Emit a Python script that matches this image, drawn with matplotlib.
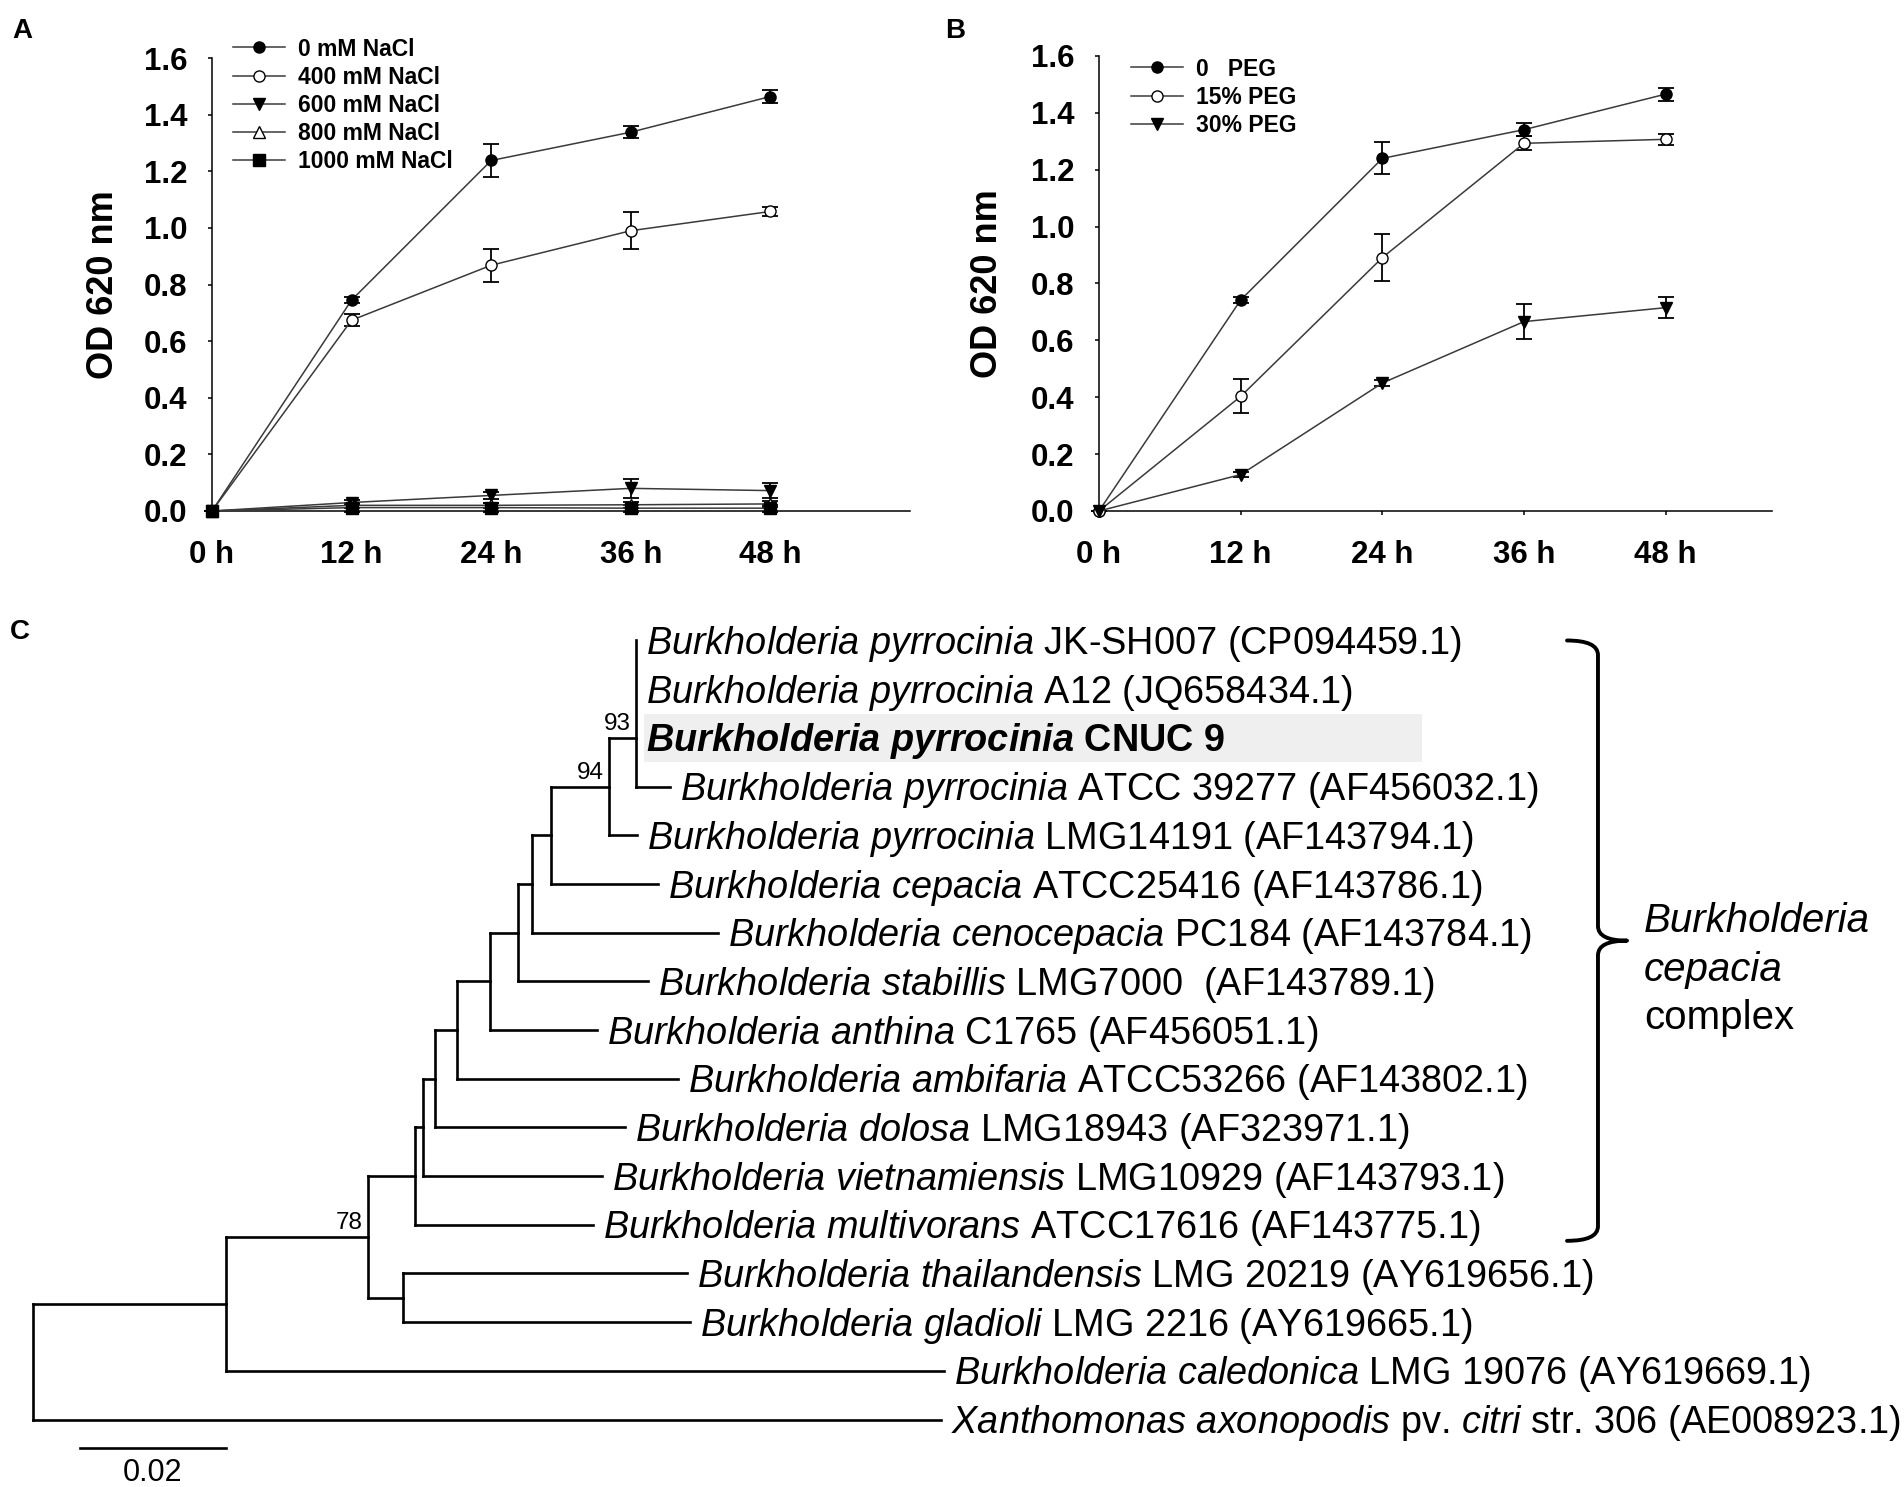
import matplotlib
matplotlib.use('Agg')
import matplotlib.pyplot as plt
from matplotlib.path import Path
from matplotlib.patches import PathPatch, Rectangle

plt.rcParams['font.family'] = ['Liberation Sans', 'DejaVu Sans']
plt.rcParams['mathtext.fontset'] = 'custom'
plt.rcParams['mathtext.rm'] = 'Liberation Sans'
plt.rcParams['mathtext.it'] = 'Liberation Sans:italic'
plt.rcParams['mathtext.bf'] = 'Liberation Sans:bold'
plt.rcParams['mathtext.bfit'] = 'Liberation Sans:italic:bold'

### growth data (OD 620 nm)
hours = [0, 12, 24, 36, 48]
hour_labels = ['0 h', '12 h', '24 h', '36 h', '48 h']
od_ticks = [0.0, 0.2, 0.4, 0.6, 0.8, 1.0, 1.2, 1.4, 1.6]

nacl_labels = ['0 mM NaCl', '400 mM NaCl', '600 mM NaCl', '800 mM NaCl', '1000 mM NaCl']
nacl_mean = [[0, 0.745, 1.238, 1.338, 1.464],
             [0, 0.674, 0.868, 0.990, 1.058],
             [0, 0.030, 0.055, 0.080, 0.072],
             [0, 0.020, 0.020, 0.022, 0.025],
             [0, 0.012, 0.012, 0.010, 0.010]]
nacl_err = [[0, 0.010, 0.058, 0.022, 0.024],
            [0, 0.022, 0.058, 0.066, 0.017],
            [0, 0.010, 0.012, 0.033, 0.027],
            [0, 0.008, 0.008, 0.010, 0.012],
            [0, 0.015, 0.015, 0.012, 0.012]]

peg_labels = ['0   PEG', '15% PEG', '30% PEG']
peg_mean = [[0, 0.742, 1.240, 1.341, 1.466],
            [0, 0.403, 0.891, 1.293, 1.307],
            [0, 0.128, 0.450, 0.666, 0.715]]
peg_err = [[0, 0.010, 0.056, 0.022, 0.023],
           [0, 0.060, 0.082, 0.024, 0.019],
           [0, 0.008, 0.010, 0.062, 0.036]]

### tree data (depth from root, substitutions/site)
tip_species = ['Burkholderia pyrrocinia'] * 5 + [
    'Burkholderia cepacia', 'Burkholderia cenocepacia', 'Burkholderia stabillis',
    'Burkholderia anthina', 'Burkholderia ambifaria', 'Burkholderia dolosa',
    'Burkholderia vietnamiensis', 'Burkholderia multivorans',
    'Burkholderia thailandensis', 'Burkholderia gladioli',
    'Burkholderia caledonica', 'Xanthomonas axonopodis']
tip_strain = ['JK-SH007 (CP094459.1)', 'A12 (JQ658434.1)', 'CNUC 9',
              'ATCC 39277 (AF456032.1)', 'LMG14191 (AF143794.1)',
              'ATCC25416 (AF143786.1)', 'PC184 (AF143784.1)',
              'LMG7000  (AF143789.1)', 'C1765 (AF456051.1)',
              'ATCC53266 (AF143802.1)', 'LMG18943 (AF323971.1)',
              'LMG10929 (AF143793.1)', 'ATCC17616 (AF143775.1)',
              'LMG 20219 (AY619656.1)', 'LMG 2216 (AY619665.1)',
              'LMG 19076 (AY619669.1)', 'pv. $\\mathit{citri}$ str. 306 (AE008923.1)']
tip_depth = [0.0826, 0.0826, 0.0826, 0.08726, 0.08274, 0.08562, 0.09384,
             0.08425, 0.07726, 0.08836, 0.08110, 0.07795, 0.07671,
             0.08959, 0.09000, 0.12479, 0.12438]
highlight_tip = 2

# internal node: (depth, children, bootstrap)
nodes = {
    'n93': (0.0826, [0, 1, 2, 3], '93'),
    'n94': (0.0789, ['n93', 4], '94'),
    'n_cep': (0.0710, ['n94', 5], ''),
    'n_ceno': (0.0684, ['n_cep', 6], ''),
    'n_stab': (0.0664, ['n_ceno', 7], ''),
    'n_anth': (0.0626, ['n_stab', 8], ''),
    'n_ambi': (0.0581, ['n_anth', 9], ''),
    'n_dolo': (0.0551, ['n_ambi', 10], ''),
    'n_viet': (0.0534, ['n_dolo', 11], ''),
    'n_bcc': (0.0523, ['n_viet', 12], ''),
    'n_thai': (0.0507, [13, 14], ''),
    'n78': (0.0459, ['n_bcc', 'n_thai'], '78'),
    'n_cale': (0.0264, ['n78', 15], ''),
    'root': (0.0, ['n_cale', 16], ''),
}
complex_tips = (0, 12)
scale_len = 0.02

W, H = 1904, 1487
fig = plt.figure(figsize=(W / 100, H / 100), dpi=100)


def px_axes(left, top, right, bottom):
    return fig.add_axes([left / W, 1 - bottom / H, (right - left) / W, (bottom - top) / H])


markers = ['o', 'o', 'v', '^', 's']
faces = ['black', 'white', 'black', 'white', 'black']


def growth_panel(ax, means, errs, labels, xmax, anchor):
    for i in range(len(means)):
        ax.errorbar(hours, means[i], yerr=errs[i], fmt='none', ecolor='black',
                    elinewidth=1.3, capsize=5.5, capthick=1.3, clip_on=False, zorder=2)
        ax.plot(hours, means[i], color='#3a3a3a', lw=1.1, marker=markers[i], ms=8,
                mfc=faces[i], mec='black', mew=1.0, label=labels[i], clip_on=False, zorder=3)
    ax.set_xlim(0, xmax)
    ax.set_ylim(0, 1.6)
    ax.set_xticks(hours)
    ax.set_xticklabels(hour_labels, fontweight='bold')
    ax.set_yticks(od_ticks)
    ax.set_yticklabels(['%.1f' % v for v in od_ticks], fontweight='bold')
    ax.tick_params(direction='out', length=3.2, width=1.1, labelsize=22.5)
    ax.tick_params(axis='x', pad=18)
    ax.tick_params(axis='y', pad=14.5)
    for s in ['top', 'right']:
        ax.spines[s].set_visible(False)
    for s in ['left', 'bottom']:
        ax.spines[s].set_linewidth(1.1)
    ax.set_ylabel('OD 620 nm', fontsize=26, fontweight='bold', va='center')
    leg = ax.legend(loc='upper left', bbox_to_anchor=(anchor[0] / W, 1 - anchor[1] / H),
                    bbox_transform=fig.transFigure, frameon=False, borderpad=0,
                    borderaxespad=0, handlelength=2.25, handletextpad=0.57,
                    labelspacing=0.22, prop={'size': 16.5, 'weight': 'bold'})
    return leg


axA = px_axes(212, 58, 910, 511)
growth_panel(axA, nacl_mean, nacl_err, nacl_labels, 60, (233, 37.5))
axA.yaxis.set_label_coords(-0.156, 0.5)

axB = px_axes(1099, 56, 1772, 511)
growth_panel(axB, peg_mean, peg_err, peg_labels, 57, (1131, 57.5))
axB.yaxis.set_label_coords(-0.166, 0.5)

fig.text(12 / W, 1 - 38 / H, 'A', fontsize=20, fontweight='bold')
fig.text(945 / W, 1 - 38 / H, 'B', fontsize=20, fontweight='bold')
fig.text(10 / W, 1 - 639 / H, 'C', fontsize=20, fontweight='bold')

### tree panel
axT = fig.add_axes([0, 0, 1, 887 / H])
axT.set_xlim((0 - 33) * scale_len / 146, (W - 33) * scale_len / 146)
axT.set_ylim(17.386, -0.8316)
axT.axis('off')
tree_lw = 1.9


def node_x(n):
    return tip_depth[n] if isinstance(n, int) else nodes[n][0]


def node_y(n):
    if isinstance(n, int):
        return float(n)
    kids = nodes[n][1]
    ys = [node_y(k) for k in kids]
    if len(kids) == 2:
        return (ys[0] + ys[1]) / 2
    return ys[len(kids) // 2]


for name, (d, kids, sup) in nodes.items():
    ys = [node_y(k) for k in kids]
    axT.plot([d, d], [min(ys), max(ys)], color='black', lw=tree_lw, solid_capstyle='projecting')
    for k, yk in zip(kids, ys):
        axT.plot([d, node_x(k)], [yk, yk], color='black', lw=tree_lw, solid_capstyle='projecting')
    if sup:
        axT.annotate(sup, xy=(d, node_y(name)), xytext=(-4, 5.5), textcoords='offset points',
                     ha='right', va='baseline', fontsize=17.5)

hx = nodes['n93'][0] + 0.0011
axT.add_patch(Rectangle((hx, highlight_tip - 0.5), 0.1903 - hx, 1.0,
                        facecolor='#efefef', edgecolor='none', zorder=0))

for i in range(len(tip_species)):
    words = tip_species[i].split(' ')
    if i == highlight_tip:
        lab = ' '.join('$\\mathbfit{%s}$' % w for w in words) + ' ' + tip_strain[i]
        wt = 'bold'
    else:
        lab = ' '.join('$\\mathit{%s}$' % w for w in words) + ' ' + tip_strain[i]
        wt = 'normal'
    axT.annotate(lab, xy=(tip_depth[i], i), xytext=(7, -9.8), textcoords='offset points',
                 ha='left', va='baseline', fontsize=27.3, fontweight=wt)

# bracket for the B. cepacia complex
yt, yb = complex_tips[0], complex_tips[1] + 0.33
ym = (yt + yb) / 2
x0, xv, xt = 0.21014, 0.21438, 0.21836
r = 0.3
verts = [(x0, yt), (xv, yt), (xv, yt + r), (xv, ym - r), (xv, ym), (xt, ym),
         (xv, ym), (xv, ym + r), (xv, yb - r), (xv, yb), (x0, yb)]
codes = [Path.MOVETO, Path.CURVE3, Path.CURVE3, Path.LINETO, Path.CURVE3, Path.CURVE3,
         Path.CURVE3, Path.CURVE3, Path.LINETO, Path.CURVE3, Path.CURVE3]
axT.add_patch(PathPatch(Path(verts, codes), fill=False, lw=2.8, edgecolor='black',
                        capstyle='round', joinstyle='round'))
axT.text(0.2207, ym - 0.17, 'Burkholderia', fontsize=29, style='italic', va='baseline')
axT.text(0.2207, ym + 0.83, 'cepacia', fontsize=29, style='italic', va='baseline')
axT.text(0.2207, ym + 1.82, 'complex', fontsize=29, va='baseline')

# scale bar
sb_x = (80 - 33) * scale_len / 146
axT.plot([sb_x, sb_x + scale_len], [16.58, 16.58], color='black', lw=tree_lw)
axT.text(sb_x + scale_len / 2, 17.26, '%.2f' % scale_len, fontsize=22, ha='center', va='baseline')

fig.savefig('out.png', dpi=100, facecolor='white')
